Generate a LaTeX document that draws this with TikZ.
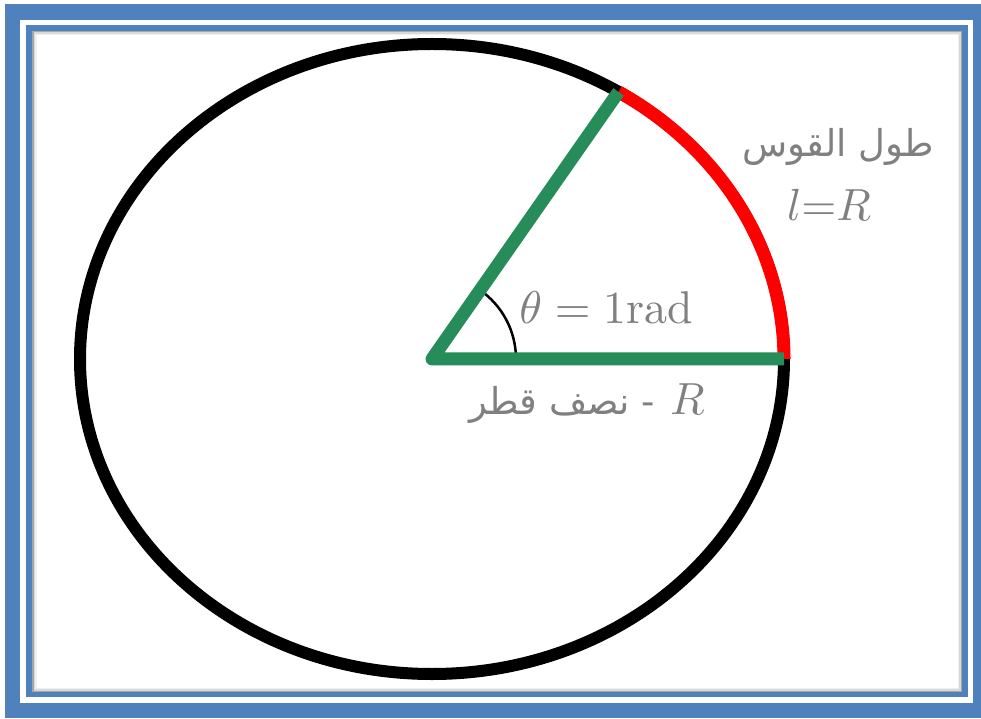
\documentclass[tikz,border=0pt]{standalone}
\usepackage{fontspec}
\usetikzlibrary{calc,positioning}
\newfontfamily\arabicfont[Script=Arabic]{DejaVu Sans}
\TeXXeTstate=1
\definecolor{frameblue}{RGB}{79,129,189}
\definecolor{radgreen}{RGB}{38,140,90}
\definecolor{textgrey}{RGB}{128,128,128}
\tikzset{
  lbl/.style={text=textgrey, inner sep=0pt},
  mathlbl/.style={lbl, font=\fontsize{10}{12}\selectfont, scale=4.5},
  radline/.style={radgreen, line width=13pt, line join=round},
}
\begin{document}
\begin{tikzpicture}[x=1pt, y=1pt]
\useasboundingbox (0,0) rectangle (981,718);
% frame
\fill[frameblue] (5,0) rectangle (981,714);
\fill[white] (20,15) rectangle (973,698);
\fill[frameblue] (26,21) rectangle (968,693);
\fill[white] (32,26) rectangle (962,687);
\draw[black!35, line width=1.5pt] (32.75,26.75) rectangle (961.25,686.25);
\draw[black!15, line width=1.5pt] (34.25,28.25) rectangle (959.75,684.75);
\draw[black!6, line width=1.5pt] (35.75,29.75) rectangle (958.25,683.25);

% circle and radii
\coordinate (O) at (432,359);
\coordinate (A) at ($(O)+(0:352 and 315)$);
\coordinate (B) at ($(O)+(58:352 and 315)$);
\draw[line width=12pt] (O) ellipse[x radius=352, y radius=315];
\draw[line width=2.5pt] ($(O)+(84,0)$) arc[start angle=0, end angle=56, radius=84];
\draw[red, line width=13pt] (A) arc[start angle=0, end angle=58, x radius=352, y radius=315];
\draw[radline] (B) -- (O) -- (A);

% labels
\node[mathlbl, scale=1.02] (theta) at (606,410) {$\theta = 1\mathrm{rad}$};
\node[lbl, font=\arabicfont\fontsize{37}{44}\selectfont] (arcname) at (838,571) {\beginR طول القوس\endR};
\node[mathlbl] (arcval) at (829,513) {$l{=}R$};
\node[lbl, font=\arabicfont\fontsize{37}{44}\selectfont] (radname) at (562,313) {\beginR - نصف قطر\endR};
\node[mathlbl, anchor=base west] (radsym) at ($(radname.base east)+(14,0)$) {$R$};
\end{tikzpicture}
\end{document}
